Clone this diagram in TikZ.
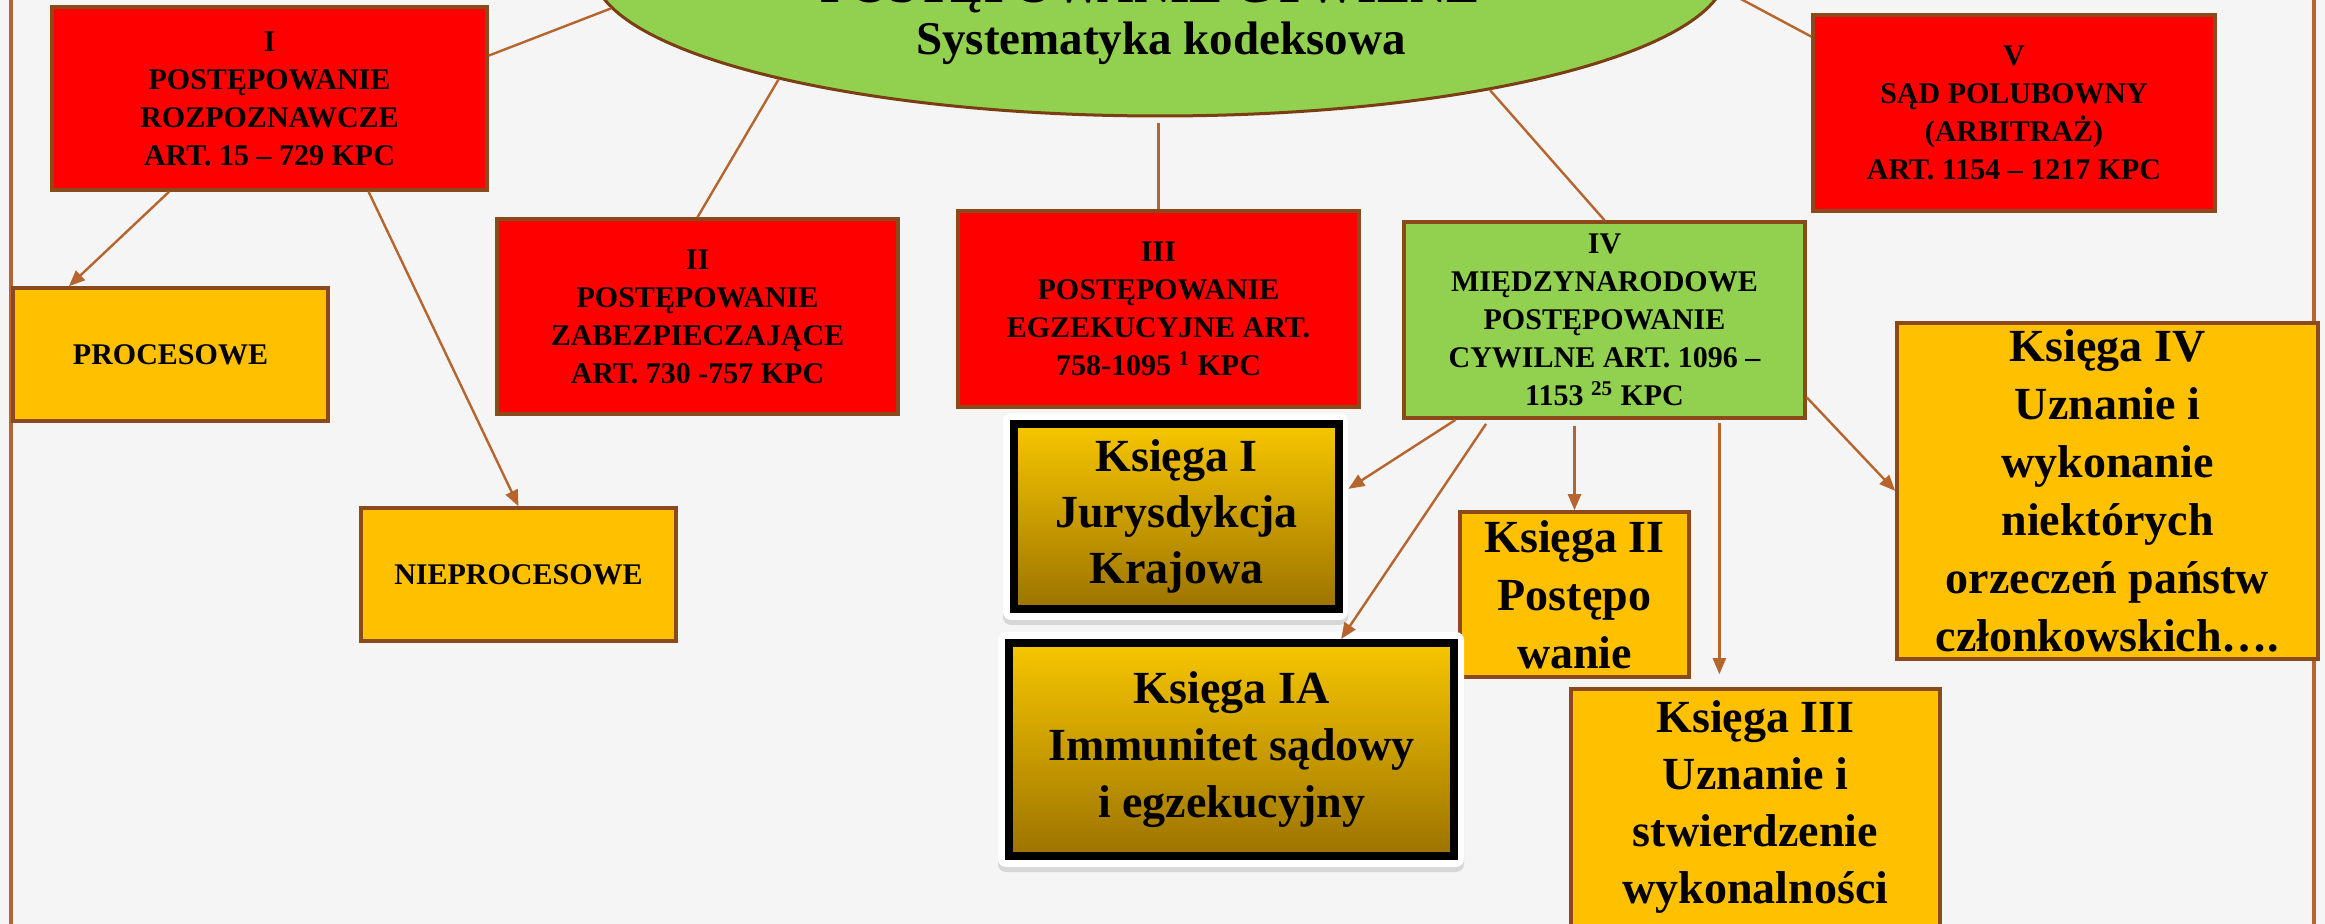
\documentclass[tikz,border=0pt]{standalone}
\usepackage{fontspec}
\setmainfont{Liberation Serif}
\usetikzlibrary{arrows.meta,calc,shapes.geometric,shadows}
\definecolor{bgc}{HTML}{F5F5F5}
\definecolor{redbox}{HTML}{FF0000}
\definecolor{yelbox}{HTML}{FFC000}
\definecolor{grnbox}{HTML}{92D050}
\definecolor{boxbrown}{HTML}{8A4A1C}
\definecolor{conncol}{HTML}{B5652D}
\definecolor{framecol}{HTML}{B8642F}
\definecolor{elbrown}{HTML}{7A3E12}
\definecolor{goldtop}{HTML}{F7C600}
\definecolor{goldbot}{HTML}{9C7300}
\tikzset{
  pbox/.style={rectangle, draw=boxbrown, line width=1.75pt, inner sep=0pt, align=center,
    font=\fontsize{15}{19}\selectfont\bfseries},
  redb/.style={pbox, fill=redbox},
  yelb/.style={pbox, fill=yelbox},
  grnb/.style={pbox, fill=grnbox},
  kbox/.style={rectangle, draw=boxbrown, line width=1.75pt, inner sep=0pt, align=center, fill=yelbox,
    font=\fontsize{23}{29}\selectfont\bfseries},
  kglow/.style={rectangle, fill=white, rounded corners=4pt, inner sep=0pt,
    drop shadow={opacity=0.25, shadow xshift=0pt, shadow yshift=-2.5pt}},
  kblack/.style={rectangle, draw=black, line width=4pt, inner sep=0pt, align=center,
    top color=goldtop, bottom color=goldbot, font=\fontsize{23}{28}\selectfont\bfseries},
  conn/.style={draw=conncol, line width=1.2pt},
  arr/.style={conn, -{Triangle[length=8pt,width=6.5pt]}, fill=conncol},
  framel/.style={draw=framecol, line width=1.6pt}
}
\begin{document}
\begin{tikzpicture}[x=0.5pt,y=-0.5pt]
\clip (0,0) rectangle (2325,924);
\fill[bgc] (0,0) rectangle (2325,924);
% frame lines
\draw[framel] (11,0) -- (11,924);
\draw[framel] (2314,0) -- (2314,924);

% central ellipse
\node[ellipse, draw=elbrown, line width=1.5pt, fill=grnbox, minimum width=567pt, minimum height=146pt, inner sep=0pt] (title) at (1160,-30) {};
\node[anchor=base, font=\fontsize{25}{30}\selectfont\bfseries, inner sep=0pt] (titleA) at (1150,3) {POSTĘPOWANIE CYWILNE};
\node[anchor=base, font=\fontsize{23.5}{28}\selectfont\bfseries, inner sep=0pt] (titleB) at (1161,55) {Systematyka kodeksowa};

% red / green / yellow boxes
\node[redb, minimum width=217.5pt, minimum height=91.5pt] (boxI) at (269.5,98.5)
  {I\\POSTĘPOWANIE\\ROZPOZNAWCZE\\ART. 15 – 729 KPC};
\node[yelb, minimum width=157.5pt, minimum height=66.5pt] (proc) at (170.5,354.5) {PROCESOWE};
\node[yelb, minimum width=157.5pt, minimum height=66.5pt] (nieproc) at (518.5,574.5) {NIEPROCESOWE};
\node[redb, minimum width=200.5pt, minimum height=97.5pt] (boxII) at (697.5,316.5)
  {II\\POSTĘPOWANIE\\ZABEZPIECZAJĄCE\\ART. 730 -757 KPC};
\node[redb, minimum width=200.5pt, minimum height=98pt] (boxIII) at (1158.5,309)
  {III\\POSTĘPOWANIE\\EGZEKUCYJNE ART.\\758-1095 \textsuperscript{1} KPC};
\node[grnb, minimum width=200.5pt, minimum height=98pt] (boxIV) at (1604.5,320)
  {IV\\MIĘDZYNARODOWE\\POSTĘPOWANIE\\CYWILNE ART. 1096 –\\1153 \textsuperscript{25} KPC};
\node[redb, minimum width=201pt, minimum height=98pt] (boxV) at (2014,113)
  {V\\SĄD POLUBOWNY\\(ARBITRAŻ)\\ART. 1154 – 1217 KPC};

% Księgi
\node[kbox, minimum width=210.5pt, minimum height=168pt] (kIV) at (2107.5,491)
  {Księga IV\\Uznanie i\\wykonanie\\niektórych\\orzeczeń państw\\członkowskich….};
\node[kbox, minimum width=114.5pt, minimum height=82.5pt] (kII) at (1574.5,594.5)
  {Księga II\\Postępo\\wanie};
\node[kbox, font=\fontsize{23}{28.5}\selectfont\bfseries, minimum width=184.5pt, minimum height=118.5pt] (kIII) at (1755.5,807.5)
  {Księga III\\Uznanie i\\stwierdzenie\\wykonalności};

\node[kglow, minimum width=172.5pt, minimum height=103.5pt] (kIbg) at (1175.5,516.5) {};
\node[kblack, minimum width=162.5pt, minimum height=92.5pt] (kI) at (1176.5,516.5)
  {Księga I\\Jurysdykcja\\Krajowa};
\node[kglow, minimum width=233pt, minimum height=117.5pt] (kIAbg) at (1231,749.5) {};
\node[kblack, font=\fontsize{23}{28.5}\selectfont\bfseries, minimum width=222.5pt, minimum height=106.5pt] (kIA) at (1231.5,749.5)
  {Księga IA\\Immunitet sądowy\\i egzekucyjny};

% connectors from the ellipse
\draw[conn] (title.184) -- ($(boxI.north east)!0.27!(boxI.south east)$);
\draw[conn] (title.196) -- (boxII.north);
\draw[conn, shorten <=3pt] (title.south -| boxIII.north) -- (boxIII.north);
\draw[conn] (title.340) -- (boxIV.north);
\draw[conn] (title.358) -- ($(boxV.north west)!0.117!(boxV.south west)$);

% arrows
\draw[arr] ($(boxI.south west)!0.271!(boxI.south east)$) -- ($(proc.north west)!0.181!(proc.north east)$);
\draw[arr] ($(boxI.south west)!0.726!(boxI.south east)$) -- (nieproc.north);
\draw[arr] ($(boxIV.south west)!0.132!(boxIV.south east)$) -- ($(kIbg.north east)!0.367!(kIbg.south east)$);
\draw[arr, shorten <=2.5pt] ($(boxIV.south west)!0.214!(boxIV.south east)$) -- ($(kIA.north west)!0.742!(kIA.north east)$);
\draw[arr, shorten <=3pt] (kII.north |- boxIV.south) -- (kII.north);
\coordinate (k3top) at ($(kIII.north west)!0.403!(kIII.north east)$);
\draw[arr, shorten <=1.5pt, shorten >=6.5pt] (k3top |- boxIV.south) -- (k3top);
\draw[arr] ($(boxIV.north east)!0.888!(boxIV.south east)$) -- (kIV.west);
\end{tikzpicture}
\end{document}
